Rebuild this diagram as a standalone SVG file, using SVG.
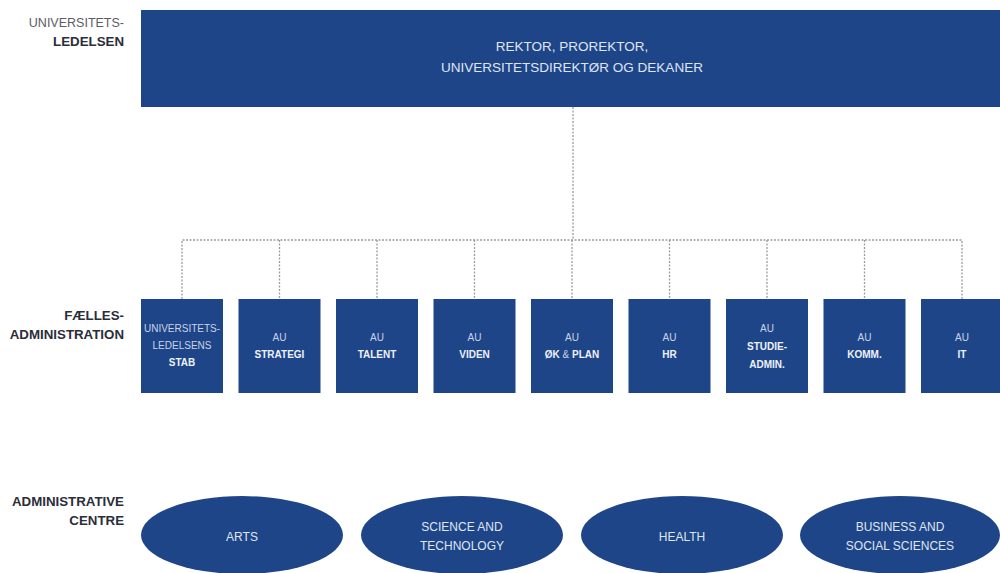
<svg xmlns="http://www.w3.org/2000/svg" width="1000" height="573" viewBox="0 0 1000 573">
<style>
.blk{fill:#1f4589}
.lbl{font-family:"Liberation Sans",Arial,sans-serif;text-anchor:end}
.lt{fill:#5a5d66;font-size:12.5px}
.bd{fill:#2b2d3a;font-weight:bold;font-size:13.3px}
.bt{font-family:"Liberation Sans",Arial,sans-serif;font-size:10px;text-anchor:middle;fill:#c9d3e8}
.bt .b{font-weight:bold;fill:#eef2fa}
.et{font-family:"Liberation Sans",Arial,sans-serif;font-size:12px;text-anchor:middle;fill:#dfe6f3}
.tt{font-family:"Liberation Sans",Arial,sans-serif;font-size:13.5px;text-anchor:middle;fill:#dfe6f3}
.con{fill:none;stroke:#9a9ca4;stroke-width:1.3;stroke-dasharray:2 1.5}
</style>
<rect width="1000" height="573" fill="#ffffff"/>
<g id="labels">
<text class="lbl lt" x="124" y="27">UNIVERSITETS-</text>
<text class="lbl bd" x="124" y="46">LEDELSEN</text>
<text class="lbl bd" x="124" y="320">FÆLLES-</text>
<text class="lbl bd" x="124" y="339">ADMINISTRATION</text>
<text class="lbl bd" x="124" y="506">ADMINISTRATIVE</text>
<text class="lbl bd" x="124" y="525">CENTRE</text>
</g>
<g id="connectors">
<path class="con" d="M573 107 V240"/>
<path class="con" d="M182 299 V240 H962 V299"/>
<path class="con" d="M279.5 240 V299 M377 240 V299 M474.5 240 V299 M572 240 V299 M669.5 240 V299 M767 240 V299 M864.5 240 V299"/>
</g>
<g id="top">
<rect class="blk" x="141" y="10" width="859" height="97"/>
<text class="tt" x="572" y="51">REKTOR, PROREKTOR,</text>
<text class="tt" x="572" y="72">UNIVERSITETSDIREKTØR OG DEKANER</text>
</g>
<g id="stab">
<rect class="blk" x="141" y="299" width="82" height="94"/>
<text class="bt" x="182" y="332">UNIVERSITETS-</text>
<text class="bt" x="182" y="349">LEDELSENS</text>
<text class="bt" x="182" y="366"><tspan class="b">STAB</tspan></text>
</g>
<g id="strategi">
<rect class="blk" x="238.5" y="299" width="82" height="94"/>
<text class="bt" x="279.5" y="341">AU</text>
<text class="bt" x="279.5" y="358"><tspan class="b">STRATEGI</tspan></text>
</g>
<g id="talent">
<rect class="blk" x="336" y="299" width="82" height="94"/>
<text class="bt" x="377" y="341">AU</text>
<text class="bt" x="377" y="358"><tspan class="b">TALENT</tspan></text>
</g>
<g id="viden">
<rect class="blk" x="433.5" y="299" width="82" height="94"/>
<text class="bt" x="474.5" y="341">AU</text>
<text class="bt" x="474.5" y="358"><tspan class="b">VIDEN</tspan></text>
</g>
<g id="okplan">
<rect class="blk" x="531" y="299" width="82" height="94"/>
<text class="bt" x="572" y="341">AU</text>
<text class="bt" x="572" y="358"><tspan class="b">ØK</tspan> &amp; <tspan class="b">PLAN</tspan></text>
</g>
<g id="hr">
<rect class="blk" x="628.5" y="299" width="82" height="94"/>
<text class="bt" x="669.5" y="341">AU</text>
<text class="bt" x="669.5" y="358"><tspan class="b">HR</tspan></text>
</g>
<g id="studieadmin">
<rect class="blk" x="726" y="299" width="82" height="94"/>
<text class="bt" x="767" y="332">AU</text>
<text class="bt" x="767" y="350"><tspan class="b">STUDIE-</tspan></text>
<text class="bt" x="767" y="368"><tspan class="b">ADMIN.</tspan></text>
</g>
<g id="komm">
<rect class="blk" x="823.5" y="299" width="82" height="94"/>
<text class="bt" x="864.5" y="341">AU</text>
<text class="bt" x="864.5" y="358"><tspan class="b">KOMM.</tspan></text>
</g>
<g id="it">
<rect class="blk" x="921" y="299" width="82" height="94"/>
<text class="bt" x="962" y="341">AU</text>
<text class="bt" x="962" y="358"><tspan class="b">IT</tspan></text>
</g>
<g id="arts">
<ellipse class="blk" cx="242" cy="535" rx="101" ry="39"/>
<text class="et" x="242" y="541">ARTS</text>
</g>
<g id="scitech">
<ellipse class="blk" cx="462" cy="535" rx="101" ry="39"/>
<text class="et" x="462" y="531">SCIENCE AND</text>
<text class="et" x="462" y="550">TECHNOLOGY</text>
</g>
<g id="health">
<ellipse class="blk" cx="682" cy="535" rx="101" ry="39"/>
<text class="et" x="682" y="541">HEALTH</text>
</g>
<g id="bss">
<ellipse class="blk" cx="900" cy="535" rx="100" ry="39"/>
<text class="et" x="900" y="531">BUSINESS AND</text>
<text class="et" x="900" y="550">SOCIAL SCIENCES</text>
</g>
</svg>
